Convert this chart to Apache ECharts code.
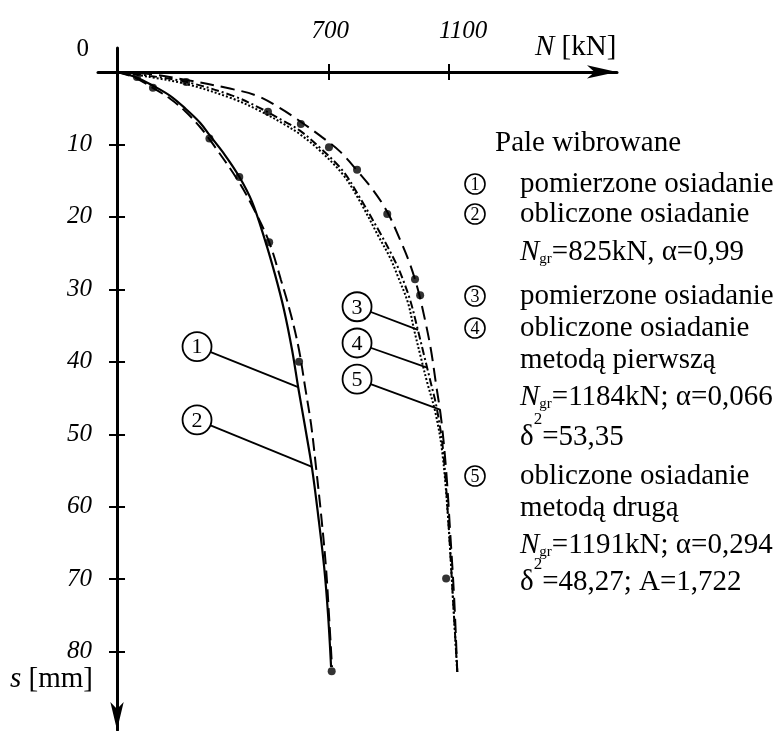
<!DOCTYPE html>
<html>
<head>
<meta charset="utf-8">
<script src="https://cdn.jsdelivr.net/npm/echarts@6/dist/echarts.min.js"></script>
<style>
  html, body { margin: 0; padding: 0; background: #fff; }
  #chart { width: 782px; height: 731px; }
</style>
</head>
<body>
<div id="chart"></div>
<script>
var serif = '"Liberation Serif", "Times New Roman", serif'

// N [kN], s [mm]
var xTicks = [700, 1100]
var yTicks = [10, 20, 30, 40, 50, 60, 70, 80]
var yLabels = [0, 10, 20, 30, 40, 50, 60, 70, 80]

// pale grupa 1
var curve1 = [[0, 0], [60, 0.7], [119, 1.9], [176, 3.3], [225, 5.0], [275, 7.0], [308, 8.8], [358, 11.5], [404, 14.4], [447, 17.9], [490, 23.2], [523, 27.9], [553, 32.8], [580, 38.4], [600, 43.5], [623, 49.0], [646, 54.7], [666, 61.1], [686, 68.3], [699, 74.9], [709, 82.1]]
var curve2 = [[0, 0], [60, 0.8], [119, 2.2], [176, 3.7], [225, 5.4], [275, 7.6], [315, 9.8], [401, 15.0], [454, 19.0], [504, 23.5], [543, 28.7], [576, 33.5], [603, 38.4], [623, 43.5], [643, 48.7], [659, 54.5], [676, 61.1], [692, 68.3], [702, 74.9], [712, 82.1]]
var points1 = [[66, 0.7], [119, 2.2], [306, 9.2], [405, 14.5], [504, 23.5], [603, 40.0], [711, 82.7]]

// pale grupa 2
var curve3 = [[0, 0], [109, 0.3], [229, 1.1], [374, 2.3], [464, 3.3], [540, 5.0], [606, 6.8], [679, 9.0], [739, 11.0], [795, 13.6], [848, 16.3], [895, 19.3], [938, 23.2], [971, 26.6], [997, 30.1], [1020, 34.2], [1040, 38.4], [1057, 43.2], [1074, 48.0], [1090, 54.9], [1103, 63.2], [1117, 72.9], [1127, 82.8]]
var curve4 = [[0, 0], [109, 0.55], [232, 1.4], [384, 3.3], [474, 5.0], [557, 6.9], [606, 8.1], [673, 10.5], [749, 13.7], [805, 17.4], [871, 22.2], [911, 25.3], [938, 27.7], [971, 31.5], [994, 35.2], [1017, 39.1], [1037, 42.5], [1060, 46.6], [1080, 52.2], [1097, 61.8], [1113, 72.9], [1127, 82.8]]
var curve5 = [[0, 0], [109, 0.7], [232, 1.7], [384, 3.7], [474, 5.4], [557, 7.3], [606, 8.6], [673, 10.9], [749, 14.2], [805, 17.9], [865, 22.6], [905, 25.7], [931, 28.3], [964, 31.9], [984, 35.6], [1007, 39.5], [1027, 42.8], [1054, 46.9], [1077, 52.4], [1097, 61.8], [1113, 72.9], [1127, 82.8]]
var points2 = [[229, 1.4], [500, 5.5], [609, 7.2], [702, 10.4], [795, 13.5], [895, 19.6], [987, 28.6], [1004, 30.8], [1090, 69.9]]

// opisy na wykresie: srodek kolka i koniec odnosnika
var callouts = [
  { label: '1', at: [265, 37.9], to: [600, 43.5] },
  { label: '2', at: [265, 48.0], to: [646, 54.5] },
  { label: '3', at: [795, 32.4], to: [997, 35.6] },
  { label: '4', at: [795, 37.4], to: [1027, 40.8] },
  { label: '5', at: [795, 42.4], to: [1070, 46.6] }
]

var legendRows = [
  { y: 143, x: 495, text: 'Pale wibrowane' },
  { y: 184, num: '1', text: 'pomierzone osiadanie' },
  { y: 214, num: '2', text: 'obliczone osiadanie' },
  { y: 252, text: '{i|N}{s|gr}=825kN, α=0,99' },
  { y: 296, num: '3', text: 'pomierzone osiadanie' },
  { y: 328, num: '4', text: 'obliczone osiadanie' },
  { y: 360, text: 'metodą pierwszą' },
  { y: 397, text: '{i|N}{s|gr}=1184kN; α=0,066' },
  { y: 437, text: 'δ{p|2}=53,35' },
  { y: 476, num: '5', text: 'obliczone osiadanie' },
  { y: 508, text: 'metodą drugą' },
  { y: 545, text: '{i|N}{s|gr}=1191kN; α=0,294' },
  { y: 582, text: 'δ{p|2}=48,27; A=1,722' }
]

var rich = {
  i: { fontFamily: serif, fontSize: 29, fontStyle: 'italic' },
  s: { fontFamily: serif, fontSize: 15, padding: [15, 0, 0, 0] },
  p: { fontFamily: serif, fontSize: 17, padding: [0, 0, 34, 0] }
}

var chart = echarts.init(document.getElementById('chart'))

function lineSeries(data, type, width) {
  return {
    type: 'line',
    data: data,
    symbol: 'none',
    smooth: 0.35,
    lineStyle: { color: '#000', width: width, type: type },
    z: 3
  }
}

function xAxisBase(extra) {
  return Object.assign({
    type: 'value',
    min: -63,
    max: 1656,
    position: 'top',
    splitLine: { show: false }
  }, extra)
}

function yAxisBase(extra) {
  return Object.assign({
    type: 'value',
    inverse: true,
    min: -3.3,
    max: 90.8,
    position: 'left',
    splitLine: { show: false }
  }, extra)
}

var option = {
  animation: false,
  backgroundColor: '#fff',
  grid: { left: 98, top: 48, width: 519, height: 682 },
  xAxis: [
    xAxisBase({
      axisLine: {
        onZero: true,
        onZeroAxisIndex: 0,
        symbol: ['none', 'arrow'],
        symbolSize: [10, 30],
        lineStyle: { color: '#000', width: 3 }
      },
      axisTick: { customValues: xTicks, length: 8, lineStyle: { color: '#000', width: 2 } },
      axisLabel: {
        customValues: xTicks,
        margin: 4,
        color: '#000',
        formatter: function(v) {
          return v === 1100 ? '{b|1100}' : '{a|' + v + '}'
        },
        rich: {
          a: { fontFamily: serif, fontStyle: 'italic', fontSize: 25, padding: [0, 0, 0, 4] },
          b: { fontFamily: serif, fontStyle: 'italic', fontSize: 25, padding: [0, 0, 0, 28] }
        }
      }
    }),
    xAxisBase({
      axisLine: { show: false, onZero: true, onZeroAxisIndex: 0 },
      axisTick: { inside: true, customValues: xTicks, length: 8, lineStyle: { color: '#000', width: 2 } },
      axisLabel: { show: false }
    })
  ],
  yAxis: [
    yAxisBase({
      axisLine: {
        onZero: true,
        onZeroAxisIndex: 0,
        symbol: ['arrow', 'none'],
        symbolSize: [10, 28],
        lineStyle: { color: '#000', width: 3 }
      },
      axisTick: { customValues: yTicks, length: 8, lineStyle: { color: '#000', width: 2 } },
      axisLabel: {
        customValues: yLabels,
        margin: 6,
        color: '#000',
        formatter: function(v) {
          return v === 0 ? '{z|0}' : '{n|' + v + '}'
        },
        rich: {
          n: { fontFamily: serif, fontStyle: 'italic', fontSize: 25 },
          z: { fontFamily: serif, fontSize: 25, padding: [0, 3, 45, 0] }
        }
      }
    }),
    yAxisBase({
      axisLine: { show: false, onZero: true, onZeroAxisIndex: 0 },
      axisTick: { inside: true, customValues: yTicks, length: 8, lineStyle: { color: '#000', width: 2 } },
      axisLabel: { show: false }
    })
  ],
  series: [
    lineSeries(curve1, 'solid', 2.2),
    lineSeries(curve2, [13, 6], 2),
    lineSeries(curve3, [14, 7], 2),
    lineSeries(curve4, [8, 3, 2, 3], 2),
    lineSeries(curve5, [2, 2], 2),
    { type: 'scatter', data: points1, symbolSize: 8, itemStyle: { color: '#000' }, z: 4 },
    { type: 'scatter', data: points2, symbolSize: 8, itemStyle: { color: '#000' }, z: 4 }
  ]
}

chart.setOption(option)

var graphic = []

// kolka z numerami przy krzywych
callouts.forEach(function(c) {
  var a = chart.convertToPixel({ seriesIndex: 0 }, c.at)
  var b = chart.convertToPixel({ seriesIndex: 0 }, c.to)
  graphic.push({
    type: 'line',
    shape: { x1: a[0], y1: a[1], x2: b[0], y2: b[1] },
    style: { stroke: '#000', lineWidth: 1.8 },
    z: 10
  })
  graphic.push({
    type: 'circle',
    shape: { cx: a[0], cy: a[1], r: 14.5 },
    style: { fill: '#fff', stroke: '#000', lineWidth: 1.8 },
    z: 11
  })
  graphic.push({
    type: 'text',
    x: a[0],
    y: a[1] + 1,
    style: { text: c.label, font: '22px ' + serif, fill: '#000', align: 'center', verticalAlign: 'middle' },
    z: 12
  })
})

// legenda po prawej
legendRows.forEach(function(r) {
  if (r.num) {
    graphic.push({
      type: 'circle',
      shape: { cx: 475, cy: r.y, r: 10 },
      style: { fill: '#fff', stroke: '#000', lineWidth: 1.6 },
      z: 10
    })
    graphic.push({
      type: 'text',
      x: 475,
      y: r.y + 1,
      style: { text: r.num, font: '18px ' + serif, fill: '#000', align: 'center', verticalAlign: 'middle' },
      z: 11
    })
  }
  graphic.push({
    type: 'text',
    x: r.x || 520,
    y: r.y,
    style: { text: r.text, font: '29px ' + serif, fill: '#000', verticalAlign: 'middle', rich: rich },
    z: 10
  })
})

// opisy osi
graphic.push({
  type: 'text',
  x: 535,
  y: 47,
  style: { text: '{i|N} [kN]', font: '29px ' + serif, fill: '#000', verticalAlign: 'middle', rich: rich },
  z: 10
})
graphic.push({
  type: 'text',
  x: 10,
  y: 679,
  style: { text: '{i|s} [mm]', font: '29px ' + serif, fill: '#000', verticalAlign: 'middle', rich: rich },
  z: 10
})

chart.setOption({ graphic: graphic })
</script>
</body>
</html>
